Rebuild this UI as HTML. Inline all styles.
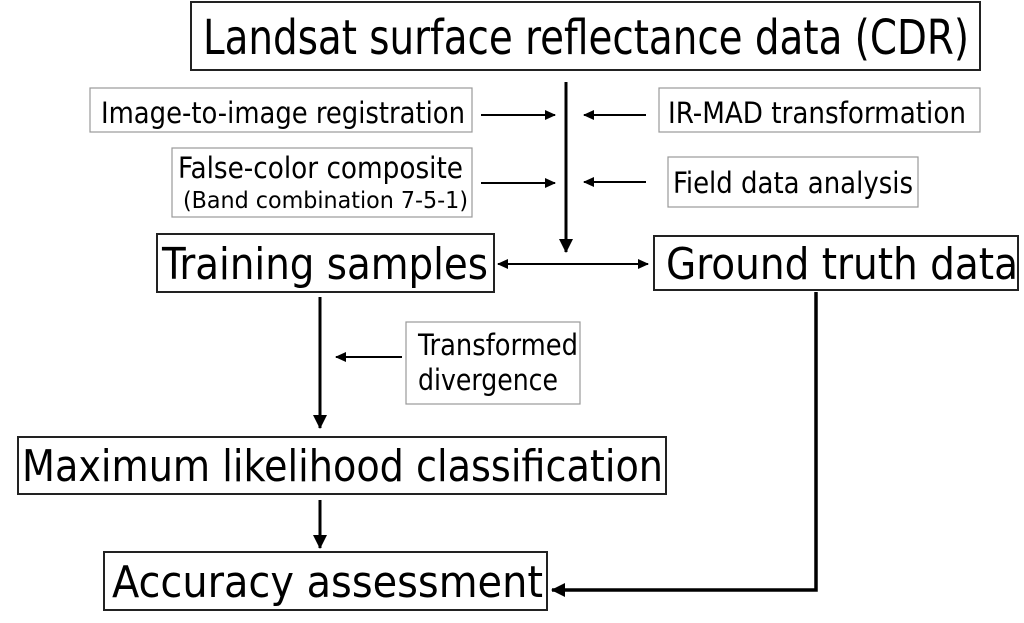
<!DOCTYPE html>
<html><head><style>body{margin:0;background:#fff}svg{display:block}</style></head><body>
<svg width="1024" height="623" viewBox="0 0 1024 623" xmlns="http://www.w3.org/2000/svg" font-family="'DejaVu Sans Condensed','Liberation Sans',sans-serif">
<defs>
<marker id="a" markerWidth="12" markerHeight="12" refX="10" refY="6" orient="auto" markerUnits="userSpaceOnUse"><path d="M0,1 L11,6 L0,11 z" fill="#000"/></marker>
<marker id="b" markerWidth="16" markerHeight="16" refX="13" refY="8" orient="auto" markerUnits="userSpaceOnUse"><path d="M0,1 L14,8 L0,15 z" fill="#000"/></marker>
</defs>
<g fill="#fff" stroke="#222" stroke-width="2">
<rect x="191" y="2" width="789" height="68"/>
<rect x="157" y="234" width="337" height="58"/>
<rect x="654" y="236" width="364" height="54"/>
<rect x="18" y="437" width="648" height="57"/>
<rect x="104" y="552" width="443" height="58"/>
</g>
<g fill="#fff" stroke="#999" stroke-width="1.2">
<rect x="90" y="88" width="382" height="44"/>
<rect x="659" y="88" width="321" height="44"/>
<rect x="172" y="148" width="300" height="69"/>
<rect x="668" y="157" width="250" height="50"/>
<rect x="406" y="322" width="174" height="82"/>
</g>
<g fill="#000">
<text x="203" y="54" font-size="48" textLength="766" lengthAdjust="spacingAndGlyphs">Landsat surface reflectance data (CDR)</text>
<text x="101" y="123" font-size="29" textLength="364" lengthAdjust="spacingAndGlyphs">Image-to-image registration</text>
<text x="668" y="123" font-size="29" textLength="298" lengthAdjust="spacingAndGlyphs">IR-MAD transformation</text>
<text x="178" y="178" font-size="29" textLength="285" lengthAdjust="spacingAndGlyphs">False-color composite</text>
<text x="183" y="208" font-size="23" textLength="285" lengthAdjust="spacingAndGlyphs">(Band combination 7-5-1)</text>
<text x="673" y="193" font-size="29" textLength="240" lengthAdjust="spacingAndGlyphs">Field data analysis</text>
<text x="162" y="279" font-size="44" textLength="326" lengthAdjust="spacingAndGlyphs">Training samples</text>
<text x="666" y="279" font-size="44" textLength="352" lengthAdjust="spacingAndGlyphs">Ground truth data</text>
<text x="418" y="355" font-size="29" textLength="160" lengthAdjust="spacingAndGlyphs">Transformed</text>
<text x="418" y="390" font-size="29" textLength="140" lengthAdjust="spacingAndGlyphs">divergence</text>
<text x="22" y="481" font-size="44" textLength="641" lengthAdjust="spacingAndGlyphs">Maximum likelihood classification</text>
<text x="112" y="597" font-size="44" textLength="431" lengthAdjust="spacingAndGlyphs">Accuracy assessment</text>
</g>
<g stroke="#000" fill="none">
<line x1="566" y1="82" x2="566" y2="252" stroke-width="3" marker-end="url(#b)"/>
<line x1="481" y1="115" x2="555" y2="115" stroke-width="2" marker-end="url(#a)"/>
<line x1="646" y1="115" x2="584" y2="115" stroke-width="2" marker-end="url(#a)"/>
<line x1="481" y1="183" x2="555" y2="183" stroke-width="2" marker-end="url(#a)"/>
<line x1="646" y1="182" x2="584" y2="182" stroke-width="2" marker-end="url(#a)"/>
<line x1="509" y1="264" x2="648" y2="264" stroke-width="2" marker-end="url(#a)"/>
<line x1="639" y1="264" x2="498" y2="264" stroke-width="2" marker-end="url(#a)"/>
<line x1="320" y1="297" x2="320" y2="428" stroke-width="3" marker-end="url(#b)"/>
<line x1="402" y1="357" x2="336" y2="357" stroke-width="2" marker-end="url(#a)"/>
<line x1="320" y1="500" x2="320" y2="548" stroke-width="3" marker-end="url(#b)"/>
<polyline points="816,292 816,590 552,590" stroke-width="3.5" marker-end="url(#b)"/>
</g>
</svg>
</body></html>
